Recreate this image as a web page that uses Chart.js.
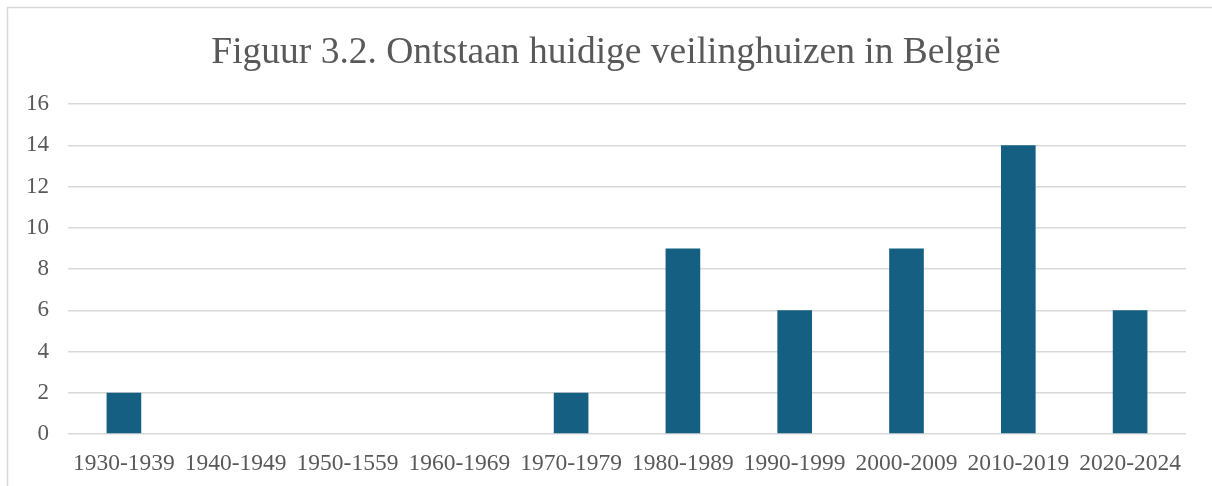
<!DOCTYPE html>
<html>
<head>
<meta charset="utf-8">
<script src="https://cdn.jsdelivr.net/npm/chart.js@4/dist/chart.umd.min.js"></script>
<style>
html,body{margin:0;padding:0;background:#fff;overflow:hidden;}
canvas{display:block;}
</style>
</head>
<body>
<canvas id="c" width="1212" height="486"></canvas>
<script>
const categories = ["1930-1939","1940-1949","1950-1559","1960-1969","1970-1979","1980-1989","1990-1999","2000-2009","2010-2019","2020-2024"];
const values = [2,0,0,0,2,9,6,9,14,6];
const yTicks = [0,2,4,6,8,10,12,14,16];
const titleText = "Figuur 3.2. Ontstaan huidige veilinghuizen in België";

const frame = {
  id: 'frame',
  beforeDraw(chart) {
    const ctx = chart.ctx;
    ctx.save();
    ctx.fillStyle = '#fff';
    ctx.fillRect(0,0,chart.width,chart.height);
    ctx.strokeStyle = '#d9d9d9';
    ctx.lineWidth = 1.5;
    ctx.strokeRect(7.5,7.5,1240,520);
    ctx.restore();
  }
};

new Chart(document.getElementById('c'), {
  type: 'bar',
  data: {
    labels: categories,
    datasets: [{
      data: values,
      backgroundColor: '#156082',
      categoryPercentage: 0.31,
      barPercentage: 1.0
    }]
  },
  options: {
    responsive: false,
    animation: false,
    layout: { padding: { left: 26, right: 26, top: 0, bottom: 0 } },
    plugins: {
      legend: { display: false },
      tooltip: { enabled: false },
      title: {
        display: true,
        text: titleText,
        color: '#595959',
        font: { family: "'Liberation Serif', 'Times New Roman', serif", size: 37.5, weight: 'normal' },
        padding: { top: 30.5, bottom: 28.5 }
      }
    },
    scales: {
      x: {
        grid: { display: false, drawTicks: false },
        border: { display: false },
        ticks: {
          color: '#595959',
          font: { family: "'Liberation Serif', 'Times New Roman', serif", size: 23.5 },
          padding: 16,
          maxRotation: 0,
          autoSkip: false
        },
        afterFit(scale) { scale.height = 52; }
      },
      y: {
        min: 0, max: 16,
        afterBuildTicks(scale) { scale.ticks = yTicks.map(v => ({ value: v })); },
        grid: { color: '#d9d9d9', lineWidth: 1.5, drawTicks: false },
        border: { display: false },
        ticks: {
          color: '#595959',
          font: { family: "'Liberation Serif', 'Times New Roman', serif", size: 23 },
          padding: 19
        },
        afterFit(scale) { scale.width = 42; }
      }
    }
  },
  plugins: [frame]
});
</script>
</body>
</html>
